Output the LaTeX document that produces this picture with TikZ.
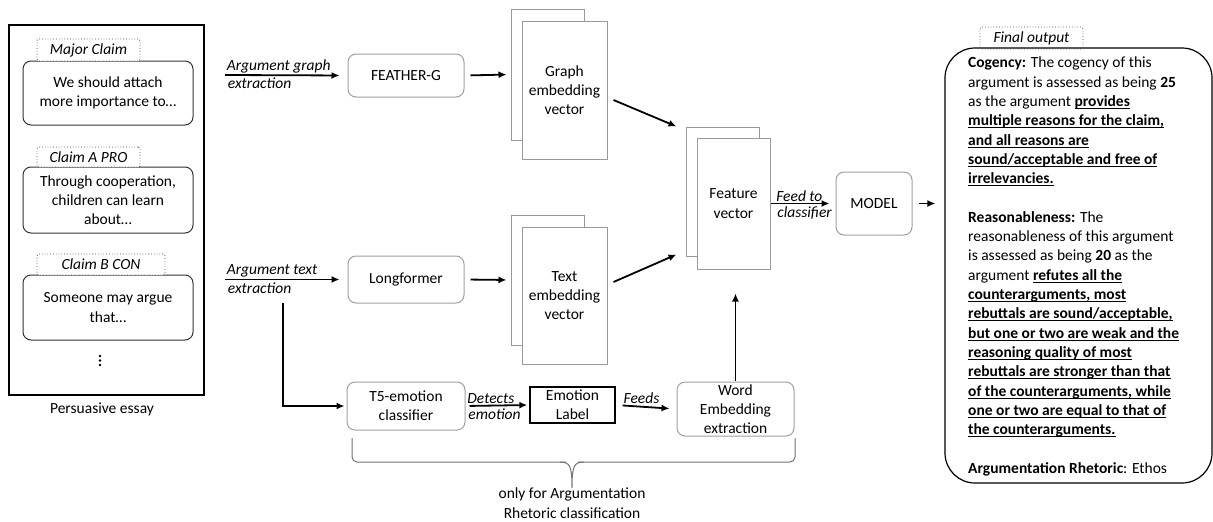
\documentclass[tikz,border=0pt]{standalone}
\usepackage{fontspec}
\setmainfont{Carlito}
\usetikzlibrary{arrows.meta}
\newcommand{\figfont}{\fontsize{15.5}{19.3}\selectfont}
\newcommand{\ulbf}[1]{\setbox0=\hbox{\bfseries #1}\rlap{\rule[-2.4pt]{\wd0}{0.9pt}}\box0}
\tikzset{
  proc/.style={draw=gray!75, line width=1pt, rounded corners=8pt, align=center, inner sep=2pt},
  claim/.style={draw=black!80, line width=1pt, rounded corners=8pt, align=center, minimum width=170pt, inner sep=2pt},
  tag/.style={draw=black!70, dotted, line width=0.8pt, rounded corners=2pt, font=\figfont\itshape, inner sep=1pt},
  vec/.style={draw=gray!80, line width=1pt, fill=white, align=center},
  lbl/.style={font=\figfont\itshape, inner sep=1pt},
  arr/.style={draw, line width=1.8pt, -{Latex[length=8pt,width=7pt]}},
}
\begin{document}
\begin{tikzpicture}[x=1pt, y=-1pt, font=\figfont]
\useasboundingbox (0,0) rectangle (1213,522);
% essay on the left
\node[draw, line width=2.6pt, minimum width=195pt, minimum height=370pt] (essay) at (106.5,210) {};
\node (essaylbl) at (102,409) {Persuasive essay};
\node[claim, minimum height=64pt] (major) at (108,93) {We should attach\\more importance to\dots};
\node[tag, minimum width=103pt, minimum height=22pt, fill=white] (majortag) at (88.5,50) {Major Claim};
\node[claim, minimum height=66pt] (claima) at (108,200) {Through cooperation,\\children can learn\\about\dots};
\node[tag, minimum width=103pt, minimum height=20pt, fill=white] (claimatag) at (88.5,157) {Claim A PRO};
\node[claim, minimum height=65pt] (claimb) at (108,307.5) {Someone may argue\\that\dots};
\node[tag, minimum width=128pt, minimum height=21pt, fill=white] (claimbtag) at (101,264.5) {Claim B CON};
\foreach \y in {356,360.5,365}
  \fill (100,\y) circle (1.4pt);
% graph branch
\coordinate (ag) at (225,75);
\node[proc, minimum width=116pt, minimum height=43pt] (feather) at (406,75.5) {FEATHER-G};
\node[vec, minimum width=73pt, minimum height=131pt] (gback) at (547.5,74.5) {};
\node[vec, minimum width=85pt, minimum height=138pt] (gvec) at (564.5,90) {Graph\\embedding\\vector};
\path[arr, shorten >=8pt] (ag) -- node[lbl, pos=0, anchor=south west] {Argument graph} node[lbl, pos=0, anchor=north west, inner sep=2pt] {extraction} (feather.west);
\path[arr, shorten <=6pt, shorten >=4pt] (feather.east) -- (gback.west);
% text branch
\coordinate (at) at (225,279.5);
\node[proc, minimum width=116pt, minimum height=47pt] (longf) at (406,279.5) {Longformer};
\node[vec, minimum width=73pt, minimum height=130pt] (tback) at (547.5,280) {};
\node[vec, minimum width=85pt, minimum height=137pt] (tvec) at (564.5,295.5) {Text\\embedding\\vector};
\path[arr, shorten >=8pt] (at) -- node[lbl, pos=0, anchor=south west] {Argument text} node[lbl, pos=0, anchor=north west, inner sep=2pt] {extraction} (longf.west);
\path[arr, shorten <=6pt, shorten >=4pt] (longf.east) -- (tback.west);
% feature vector
\node[vec, minimum width=73pt, minimum height=129pt] (fback) at (722.5,191.5) {};
\node[vec, minimum width=73pt, minimum height=131pt] (fvec) at (733.5,203.5) {Feature\\vector};
\path[arr] ([xshift=6pt,yshift=-10pt]gvec.east) -- ([xshift=-9pt]fback.north west);
\path[arr] ([xshift=6pt,yshift=13.5pt]tvec.east) -- ([xshift=-9pt,yshift=2pt]fback.south west);
% model and output
\node[proc, minimum width=76pt, minimum height=63pt] (model) at (874,203.5) {MODEL};
\path[arr, shorten >=6pt] (fvec.east) -- node[lbl, pos=0.06, anchor=south west] {Feed to} node[lbl, pos=0.06, anchor=north west, inner sep=2pt] {classifier} (model.west);
\node[draw, line width=1.2pt, rounded corners=30pt, minimum width=267pt, minimum height=435pt] (final) at (1078.5,265.5) {};
\node[tag, minimum width=103pt, minimum height=22pt] (finaltag) at (1031.5,38) {Final output};
\path[arr, shorten <=6pt, shorten >=9pt] (model.east) -- (model.east -| final.west);
\node[align=left, anchor=north west, inner sep=0pt] (finaltext) at (968,57) {%
\textbf{Cogency:} The cogency of this\\
argument is assessed as being \textbf{25}\\
as the argument \ulbf{provides}\\
\ulbf{multiple reasons for the claim,}\\
\ulbf{and all reasons are}\\
\ulbf{sound/acceptable and free of}\\
\ulbf{irrelevancies.}\\[19.3pt]
\textbf{Reasonableness:} The\\
reasonableness of this argument\\
is assessed as being \textbf{20} as the\\
argument \ulbf{refutes all the}\\
\ulbf{counterarguments, most}\\
\ulbf{rebuttals are sound/acceptable,}\\
\ulbf{but one or two are weak and the}\\
\ulbf{reasoning quality of most}\\
\ulbf{rebuttals are stronger than that}\\
\ulbf{of the counterarguments, while}\\
\ulbf{one or two are equal to that of}\\
\ulbf{the counterarguments.}\\[19.3pt]
\textbf{Argumentation Rhetoric}: Ethos};
% emotion branch
\coordinate (split) at (283,303);
\node[proc, minimum width=118pt, minimum height=48pt] (t5) at (406,406) {T5-emotion\\classifier};
\node[draw, line width=1.3pt, minimum width=85pt, minimum height=36pt, align=center, inner sep=1pt] (emo) at (572.5,405) {Emotion\\Label};
\node[proc, minimum width=117pt, minimum height=54pt] (wordemb) at (735.5,409) {Word\\Embedding\\extraction};
\path[arr, shorten >=2pt] (split) |- (t5.west);
\path[arr, shorten <=4pt, shorten >=2pt] (t5.east) -- node[lbl, pos=0, anchor=south west] {Detects} node[lbl, pos=0, anchor=north west, inner sep=2pt] {emotion} (emo.west);
\path[arr, shorten <=7pt, shorten >=7pt] (emo.east) -- node[lbl, pos=0.1, anchor=south west] {Feeds} (wordemb.west);
\path[arr, shorten <=1pt, shorten >=24pt] (wordemb.north) -- (wordemb.north |- fvec.south);
% brace under the emotion branch
\draw[gray!90!black, line width=1pt, rounded corners=5pt] (352,438) -- (352,462) -- (566,462);
\draw[gray!90!black, line width=1pt, rounded corners=5pt] (578,462) -- (795,462) -- (795,438);
\draw[gray!90!black, line width=1pt] (560,462) .. controls (570,462) and (572,466) .. (572,488) .. controls (572,466) and (574,462) .. (584,462);
\node[align=center, anchor=north, inner sep=1pt] (note) at (572,487) {only for Argumentation\\Rhetoric classification};
\end{tikzpicture}
\end{document}
